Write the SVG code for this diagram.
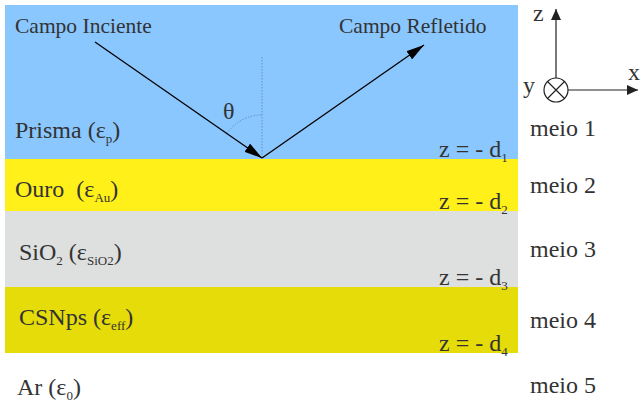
<svg xmlns="http://www.w3.org/2000/svg" width="641" height="405" viewBox="0 0 641 405">
<defs>
<style>
text{font-family:"Liberation Serif","Times New Roman",serif;fill:#333333}
.big{font-size:24px}
.lbl{font-size:21.5px}
.sub{font-size:13px}
.ray{stroke:#000;stroke-width:1.3;fill:none}
.axis{stroke:#222;stroke-width:1.2;fill:none}
</style>
<marker id="ah" viewBox="0 0 18 10" refX="18" refY="5" markerWidth="18" markerHeight="10" orient="auto" markerUnits="userSpaceOnUse"><path d="M0,0 L18,5 L0,10 Z" fill="#000"/></marker>
<marker id="ax" viewBox="0 0 11 10" refX="11" refY="5" markerWidth="11" markerHeight="10" orient="auto" markerUnits="userSpaceOnUse"><path d="M0,0 L11,5 L0,10 Z" fill="#222"/></marker>
</defs>
<g id="layers">
<rect x="5" y="5" width="513" height="154" fill="#8AC7FF"/>
<rect x="5" y="159" width="513" height="52" fill="#FFF019"/>
<rect x="5" y="211" width="513" height="76" fill="#DEDFDF"/>
<rect x="5" y="287" width="513" height="66" fill="#E6DC09"/>
</g>
<g id="connectors">
<line x1="262" y1="57" x2="262" y2="158" stroke="#6A8FB8" stroke-width="1" stroke-dasharray="1.5,1.5"/>
<path d="M226.7,133.5 A43,43 0 0 1 262,115" stroke="#6A8FB8" stroke-width="1" stroke-dasharray="1.5,1.5" fill="none"/>
<line class="ray" x1="95" y1="42" x2="262" y2="158" marker-end="url(#ah)"/>
<line class="ray" x1="262" y1="158" x2="424" y2="45" marker-end="url(#ah)"/>
</g>
<g id="ray-labels">
<text class="lbl" x="15" y="33">Campo Inciente</text>
<text class="lbl" x="339" y="33">Campo Refletido</text>
<text class="big" x="223" y="119">θ</text>
</g>
<g id="medium-labels">
<text class="big" x="15" y="138">Prisma (ε<tspan class="sub" dy="5">p</tspan><tspan dy="-5">)</tspan></text>
<text class="big" x="15" y="197" xml:space="preserve">Ouro  (ε<tspan class="sub" dy="5">Au</tspan><tspan dy="-5">)</tspan></text>
<text class="big" x="19" y="260">SiO<tspan class="sub" dy="5">2</tspan><tspan dy="-5"> (ε</tspan><tspan class="sub" dy="5">SiO2</tspan><tspan dy="-5">)</tspan></text>
<text class="big" x="19" y="325">CSNps (ε<tspan class="sub" dy="5">eff</tspan><tspan dy="-5">)</tspan></text>
<text class="big" x="17" y="395">Ar (ε<tspan class="sub" dy="5">0</tspan><tspan dy="-5">)</tspan></text>
</g>
<g id="interfaces">
<text class="big" x="439" y="157">z = - d<tspan class="sub" dy="5">1</tspan></text>
<text class="big" x="439" y="209">z = - d<tspan class="sub" dy="5">2</tspan></text>
<text class="big" x="439" y="285">z = - d<tspan class="sub" dy="5">3</tspan></text>
<text class="big" x="439" y="351">z = - d<tspan class="sub" dy="5">4</tspan></text>
</g>
<g id="meio-labels">
<text class="big" x="530" y="136">meio 1</text>
<text class="big" x="530" y="193">meio 2</text>
<text class="big" x="530" y="257">meio 3</text>
<text class="big" x="530" y="328">meio 4</text>
<text class="big" x="530" y="393">meio 5</text>
</g>
<g id="axes">
<circle cx="556" cy="90" r="12" fill="none" stroke="#222" stroke-width="1.2"/>
<path d="M547.5,81.5 L564.5,98.5 M564.5,81.5 L547.5,98.5" stroke="#222" stroke-width="1.2"/>
<line class="axis" x1="556" y1="78" x2="556" y2="9" marker-end="url(#ax)"/>
<line class="axis" x1="568" y1="90" x2="638" y2="90" marker-end="url(#ax)"/>
<text class="big" x="533" y="21">z</text>
<text class="big" x="628" y="80">x</text>
<text class="big" x="523" y="93">y</text>
</g>
</svg>
